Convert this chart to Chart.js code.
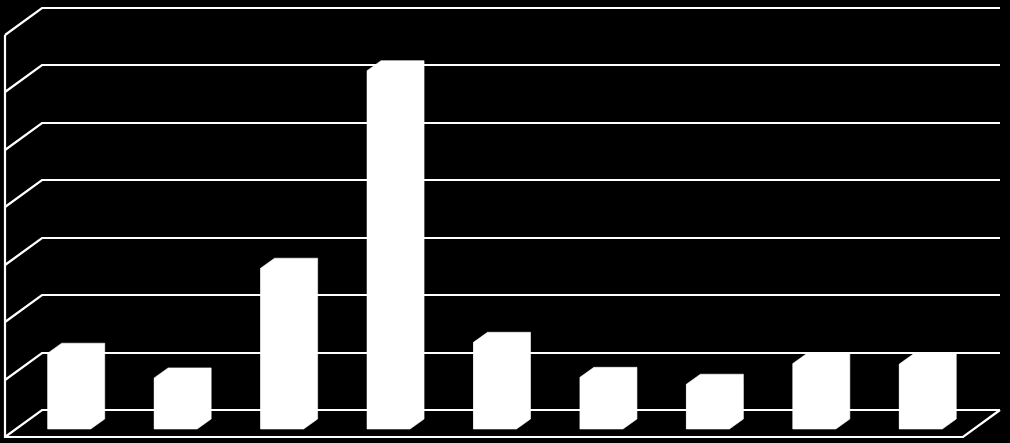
<!DOCTYPE html>
<html>
<head>
<meta charset="utf-8">
<script src="https://cdn.jsdelivr.net/npm/chart.js@4.4.1/dist/chart.umd.min.js"></script>
<style>
  html, body { margin: 0; padding: 0; background: #000; }
  #wrap { width: 1010px; height: 443px; }
</style>
</head>
<body>
<div id="wrap"><canvas id="c"></canvas></div>
<script>
// Data (units = one gridline step)
const categories = ['1', '2', '3', '4', '5', '6', '7', '8', '9'];
const values = [1.32, 0.89, 2.80, 6.24, 1.51, 0.90, 0.78, 1.14, 1.13];
const yTicks = [0, 1, 2, 3, 4, 5, 6, 7];

// 3D projection offsets (pixels) relative to the bars' front-face plane
const FRONT = { dx: -11, dy: 8 };   // front edge of floor / left wall
const BACK = { dx: 26, dy: -19 };   // back wall
const DEPTH = { dx: 14, dy: -10 };  // bar depth

const threeD = {
  id: 'threeD',
  beforeDraw(chart) {
    const ctx = chart.ctx;
    ctx.save();
    ctx.fillStyle = '#000';
    ctx.fillRect(0, 0, chart.width, chart.height);
    ctx.restore();
  },
  beforeDatasetsDraw(chart) {
    const ctx = chart.ctx;
    const y = chart.scales.y;
    const L = chart.chartArea.left, R = chart.chartArea.right;
    ctx.save();
    ctx.strokeStyle = '#fff';
    ctx.lineWidth = 2.2;
    ctx.lineJoin = 'miter';
    yTicks.forEach(v => {
      const py = Math.round(y.getPixelForValue(v));
      ctx.beginPath();
      ctx.moveTo(L + FRONT.dx, py + FRONT.dy);
      ctx.lineTo(L + BACK.dx, py + BACK.dy);
      ctx.lineTo(R + BACK.dx, py + BACK.dy);
      ctx.stroke();
    });
    const p0 = Math.round(y.getPixelForValue(yTicks[0]));
    const pTop = Math.round(y.getPixelForValue(yTicks[yTicks.length - 1]));
    ctx.beginPath();
    ctx.moveTo(L + FRONT.dx, pTop + FRONT.dy);
    ctx.lineTo(L + FRONT.dx, p0 + FRONT.dy);
    ctx.lineTo(R + FRONT.dx, p0 + FRONT.dy);
    ctx.lineTo(R + BACK.dx, p0 + BACK.dy);
    ctx.stroke();
    ctx.restore();
  },
  afterDatasetsDraw(chart) {
    const ctx = chart.ctx;
    const meta = chart.getDatasetMeta(0);
    ctx.save();
    ctx.fillStyle = '#fff';
    ctx.strokeStyle = '#fff';
    ctx.lineWidth = 0.6;
    ctx.lineJoin = 'round';
    meta.data.forEach(bar => {
      const p = bar.getProps(['x', 'y', 'base', 'width'], true);
      const x1 = p.x - p.width / 2, x2 = p.x + p.width / 2;
      const top = p.y, base = p.base;
      ctx.beginPath();
      ctx.moveTo(x1, base);
      ctx.lineTo(x1, top);
      ctx.lineTo(x1 + DEPTH.dx, top + DEPTH.dy);
      ctx.lineTo(x2 + DEPTH.dx, top + DEPTH.dy);
      ctx.lineTo(x2 + DEPTH.dx, base + DEPTH.dy);
      ctx.lineTo(x2, base);
      ctx.closePath();
      ctx.fill();
      ctx.stroke();
    });
    ctx.restore();
  }
};

new Chart(document.getElementById('c'), {
  type: 'bar',
  data: {
    labels: categories,
    datasets: [{
      data: values,
      backgroundColor: '#fff',
      borderWidth: 0,
      categoryPercentage: 1,
      barPercentage: 0.404
    }]
  },
  options: {
    responsive: true,
    maintainAspectRatio: false,
    animation: false,
    layout: { padding: { left: 16, right: 36, top: 27, bottom: 14 } },
    plugins: { legend: { display: false }, tooltip: { enabled: false } },
    scales: {
      x: { display: false },
      y: { display: false, min: 0, max: 7, ticks: { stepSize: 1 } }
    }
  },
  plugins: [threeD]
});
</script>
</body>
</html>
